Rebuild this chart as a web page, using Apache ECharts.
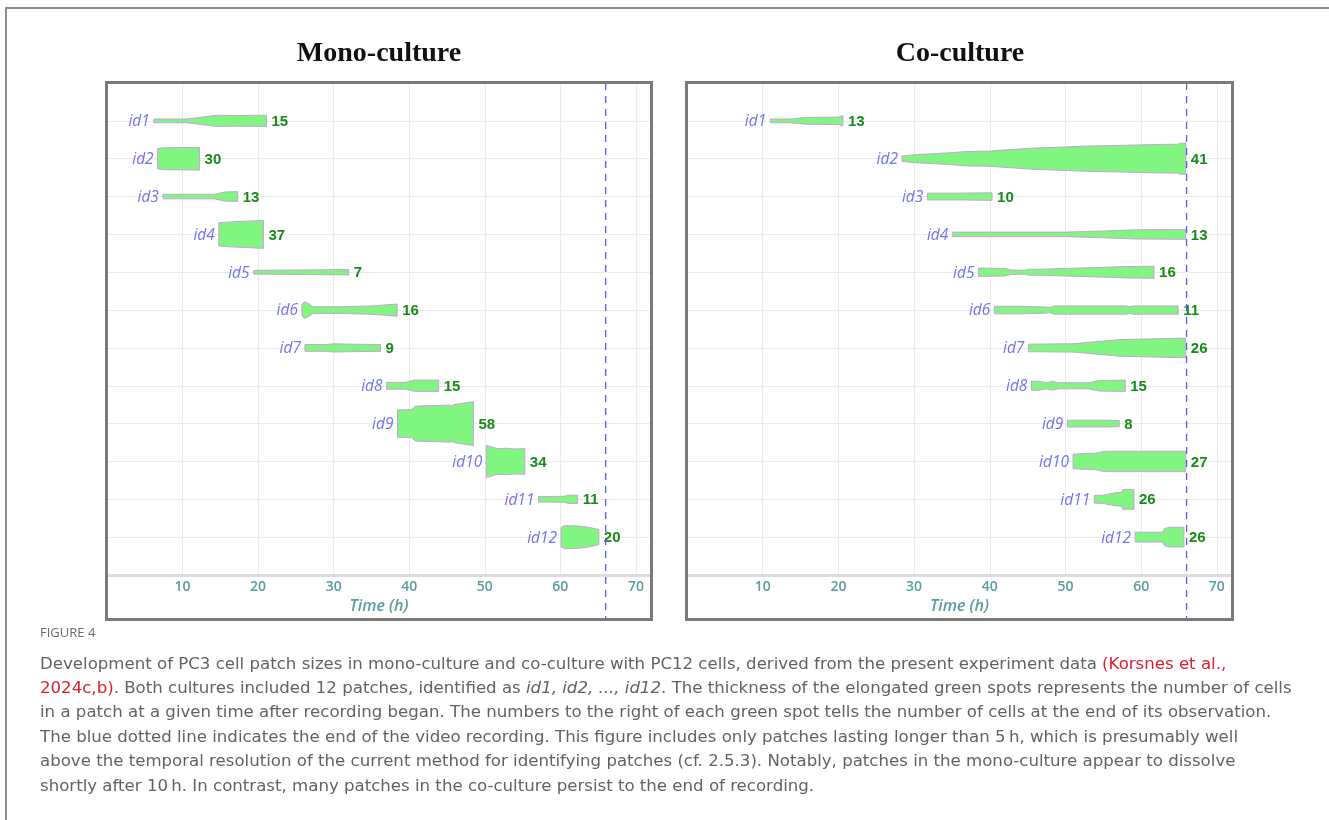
<!DOCTYPE html>
<html>
<head>
<meta charset="utf-8">
<script src="https://cdn.jsdelivr.net/npm/echarts@6/dist/echarts.min.js"></script>
<style>
  html, body { margin: 0; padding: 0; background: #ffffff; }
  #chart { width: 1329px; height: 820px; }
</style>
</head>
<body>
<div id="chart"></div>
<script>
// Patch names, one row per patch
const patchIds = ['id1', 'id2', 'id3', 'id4', 'id5', 'id6', 'id7', 'id8', 'id9', 'id10', 'id11', 'id12'];

// Mono-culture: [time (h), number of cells] along each patch's lifetime
const monoId1  = [[6.2, 5], [10.6, 5], [14.6, 15], [17, 14], [21.1, 15]];
const monoId2  = [[6.7, 27], [7.5, 29], [12.25, 30]];
const monoId3  = [[7.4, 6], [14.2, 6], [15.6, 12], [17.3, 13]];
const monoId4  = [[14.8, 31], [16.5, 33], [20.7, 37]];
const monoId5  = [[19.4, 5], [26, 6], [32.0, 7]];
const monoId6  = [[25.8, 14], [26.1, 22], [26.6, 18], [27.3, 9], [31, 9], [35, 11], [38.4, 16]];
const monoId7  = [[26.2, 9], [29, 9], [30, 11], [32, 10], [36.2, 9]];
const monoId8  = [[37.0, 9], [39.5, 9], [40.7, 15], [43.9, 15]];
const monoId9  = [[38.45, 36], [40.3, 37], [40.8, 46], [42, 47], [44, 48], [45.5, 49], [45.6, 44], [45.8, 50], [46.5, 52], [48.5, 58]];
const monoId10 = [[50.2, 42], [50.7, 40], [51.6, 34], [53, 35], [54, 33], [55.3, 34]];
const monoId11 = [[57.1, 8], [57.5, 7], [60.6, 8], [61, 11], [62.3, 11]];
const monoId12 = [[60.1, 26], [60.5, 30], [62, 30], [63.5, 27], [64.2, 24], [65.1, 20]];

// Co-culture: [time (h), number of cells]
const coId1  = [[11.0, 5], [13.6, 5], [15.8, 9], [20.2, 10], [20.3, 13], [20.6, 13]];
const coId2  = [[28.4, 7], [30.3, 11], [32.5, 13], [35, 16], [36.9, 19], [40, 20], [41.3, 22], [45.7, 28], [50, 31], [52.3, 33], [54.6, 34], [58.9, 36], [61, 37], [63.4, 38], [64.8, 38], [65.2, 41], [65.9, 41]];
const coId3  = [[31.75, 9], [36, 9], [40.3, 10]];
const coId4  = [[35.05, 6], [50, 6], [55, 9], [59, 12], [65.9, 13]];
const coId5  = [[38.5, 11], [42, 10], [42.8, 6], [44.6, 5], [45.2, 8], [47, 8], [50, 10], [55, 13], [58, 15], [61.7, 16]];
const coId6  = [[40.6, 10], [44, 10], [47.5, 8], [48, 7], [48.5, 11], [58, 11], [58.4, 9], [59, 11], [64.9, 11]];
const coId7  = [[45.1, 10], [51, 11], [57.2, 22], [65.9, 26]];
const coId8  = [[45.5, 12], [46.5, 12], [47.5, 8], [48.3, 12], [49, 8], [53, 8], [54.5, 14], [57.9, 15]];
const coId9  = [[50.25, 9], [55.4, 9], [57.1, 8]];
const coId10 = [[51.0, 19], [52.5, 21], [54, 22], [55.2, 27], [65.9, 27]];
const coId11 = [[53.8, 10], [55, 11], [56.5, 17], [57.4, 18], [57.6, 26], [59.05, 26]];
const coId12 = [[59.2, 13], [62.8, 13], [63.1, 23], [63.8, 26], [65.65, 26]];

const monoProfiles = [monoId1, monoId2, monoId3, monoId4, monoId5, monoId6, monoId7, monoId8, monoId9, monoId10, monoId11, monoId12];
const coProfiles = [coId1, coId2, coId3, coId4, coId5, coId6, coId7, coId8, coId9, coId10, coId11, coId12];

const timeTicks = [10, 20, 30, 40, 50, 60, 70];
const recordingEnd = 66; // hours

// Half thickness (in row units) contributed by one cell
const CELL_HALF = 0.01;

const chart = echarts.init(document.getElementById('chart'), null, { renderer: 'canvas' });

function patchRenderer(profiles) {
  return function (params, api) {
    const idx = api.value(2);
    const row = api.value(1);
    const prof = profiles[idx];
    const top = prof.map(p => api.coord([p[0], row - p[1] * CELL_HALF]));
    const bottom = prof.slice().reverse().map(p => api.coord([p[0], row + p[1] * CELL_HALF]));
    const start = api.coord([prof[0][0], row]);
    const lastPoint = prof[prof.length - 1];
    const end = api.coord([lastPoint[0], row]);
    return {
      type: 'group',
      children: [
        {
          type: 'polygon',
          shape: { points: top.concat(bottom) },
          style: { fill: '#80f580', stroke: '#c9a3d8', lineWidth: 1 }
        },
        {
          type: 'text',
          style: {
            text: patchIds[idx], x: start[0] - 4, y: start[1] + 1,
            align: 'right', verticalAlign: 'middle',
            fill: '#7272ee', fontSize: 15.5, fontStyle: 'italic', fontFamily: 'Open Sans'
          }
        },
        {
          type: 'text',
          style: {
            text: String(lastPoint[1]), x: end[0] + 5, y: end[1] + 1,
            align: 'left', verticalAlign: 'middle',
            fill: '#178a17', fontSize: 15, fontWeight: 'bold', fontFamily: 'Liberation Sans'
          }
        }
      ]
    };
  };
}

function endLineRenderer(params, api) {
  const p1 = api.coord([api.value(0), 0]);
  const p2 = api.coord([api.value(0), 13]);
  return {
    type: 'line',
    shape: { x1: p1[0], y1: p1[1], x2: p2[0], y2: p2[1] + 44 },
    style: { stroke: '#5a5af2', lineWidth: 1.3, lineDash: [7, 6] }
  };
}

function makeXAxis(gridIndex) {
  return {
    gridIndex: gridIndex,
    type: 'value', min: 0, max: 72, interval: 10,
    position: 'bottom',
    axisLine: { show: true, onZero: false, lineStyle: { color: '#dcdcdc', width: 3 } },
    axisTick: { show: false },
    axisLabel: {
      color: '#5b9c9c', fontSize: 14, fontWeight: 600, fontFamily: 'Open Sans', margin: 5,
      showMinLabel: false, showMaxLabel: false,
      formatter: v => (timeTicks.indexOf(v) >= 0 ? String(v) : '')
    },
    splitLine: { show: true, lineStyle: { color: '#ebebeb', width: 1 } },
    name: 'Time (h)', nameLocation: 'middle', nameGap: 23,
    nameTextStyle: { color: '#5b9c9c', fontSize: 16, fontStyle: 'italic', fontWeight: 600, fontFamily: 'Open Sans' }
  };
}

function makeYAxis(gridIndex) {
  return {
    gridIndex: gridIndex,
    type: 'value', min: 0, max: 13, interval: 1, inverse: true,
    axisLine: { show: false }, axisTick: { show: false }, axisLabel: { show: false },
    splitLine: { show: true, lineStyle: { color: '#ebebeb', width: 1 } }
  };
}

function seriesFor(profiles, gridIndex) {
  return [
    {
      type: 'custom', xAxisIndex: gridIndex, yAxisIndex: gridIndex,
      renderItem: patchRenderer(profiles),
      encode: { x: 0, y: 1 },
      data: profiles.map((p, i) => [p[0][0], i + 1, i]),
      silent: true, z: 3
    },
    {
      type: 'custom', xAxisIndex: gridIndex, yAxisIndex: gridIndex,
      renderItem: endLineRenderer,
      encode: { x: 0, y: 1 },
      data: [[recordingEnd, 0]],
      silent: true, z: 4
    }
  ];
}

const captionText = [
  '{n|Development of PC3 cell patch sizes in mono-culture and co-culture with PC12 cells, derived from the present experiment data }{r|(Korsnes et al.,}',
  '{r|2024c,b)}{n|. Both cultures included 12 patches, identified as }{i|id1, id2, ..., id12}{n|. The thickness of the elongated green spots represents the number of cells}',
  '{n|in a patch at a given time after recording began. The numbers to the right of each green spot tells the number of cells at the end of its observation.}',
  '{n|The blue dotted line indicates the end of the video recording. This figure includes only patches lasting longer than 5\u2009h, which is presumably well}',
  '{n|above the temporal resolution of the current method for identifying patches (cf. 2.5.3). Notably, patches in the mono-culture appear to dissolve}',
  '{n|shortly after 10\u2009h. In contrast, many patches in the co-culture persist to the end of recording.}'
].join('\n');

const capStyle = { fontSize: 16.6, lineHeight: 24.4, fontFamily: 'DejaVu Sans', fontWeight: 'normal' };

const option = {
  backgroundColor: '#ffffff',
  animation: false,
  grid: [
    { left: 107, top: 83, width: 544, height: 492 },
    { left: 687, top: 83, width: 545, height: 492 }
  ],
  xAxis: [makeXAxis(0), makeXAxis(1)],
  yAxis: [makeYAxis(0), makeYAxis(1)],
  series: seriesFor(monoProfiles, 0).concat(seriesFor(coProfiles, 1)),
  graphic: [
    {
      type: 'polyline', z: 10, silent: true,
      shape: { points: [[6, 820], [6, 8], [1329, 8]] },
      style: { stroke: '#8c8c8c', lineWidth: 2, fill: null }
    },
    {
      type: 'rect', z: 10, silent: true,
      shape: { x: 106.5, y: 82.5, width: 545, height: 537 },
      style: { stroke: '#7a7a7a', lineWidth: 3, fill: null }
    },
    {
      type: 'rect', z: 10, silent: true,
      shape: { x: 686.5, y: 82.5, width: 546, height: 537 },
      style: { stroke: '#7a7a7a', lineWidth: 3, fill: null }
    },
    {
      type: 'text', z: 10, silent: true,
      style: {
        text: 'Mono-culture', x: 379, y: 54, align: 'center', verticalAlign: 'middle',
        fill: '#111111', fontSize: 28, fontWeight: 'bold', fontFamily: 'Liberation Serif'
      }
    },
    {
      type: 'text', z: 10, silent: true,
      style: {
        text: 'Co-culture', x: 960, y: 54, align: 'center', verticalAlign: 'middle',
        fill: '#111111', fontSize: 28, fontWeight: 'bold', fontFamily: 'Liberation Serif'
      }
    },
    {
      type: 'text', z: 10, silent: true,
      style: {
        text: 'FIGURE 4', x: 40, y: 633, align: 'left', verticalAlign: 'middle',
        fill: '#6a6a6a', fontSize: 13, fontFamily: 'Open Sans'
      }
    },
    {
      type: 'text', z: 10, silent: true,
      style: {
        text: captionText, x: 40, y: 652, align: 'left', verticalAlign: 'top',
        fill: '#626262', fontSize: 16.6, lineHeight: 24.4, fontFamily: 'DejaVu Sans',
        rich: {
          n: Object.assign({ fill: '#626262' }, capStyle),
          r: Object.assign({ fill: '#d9202c' }, capStyle),
          i: Object.assign({ fill: '#626262', fontStyle: 'italic' }, capStyle)
        }
      }
    }
  ]
};

chart.setOption(option);
</script>
</body>
</html>
